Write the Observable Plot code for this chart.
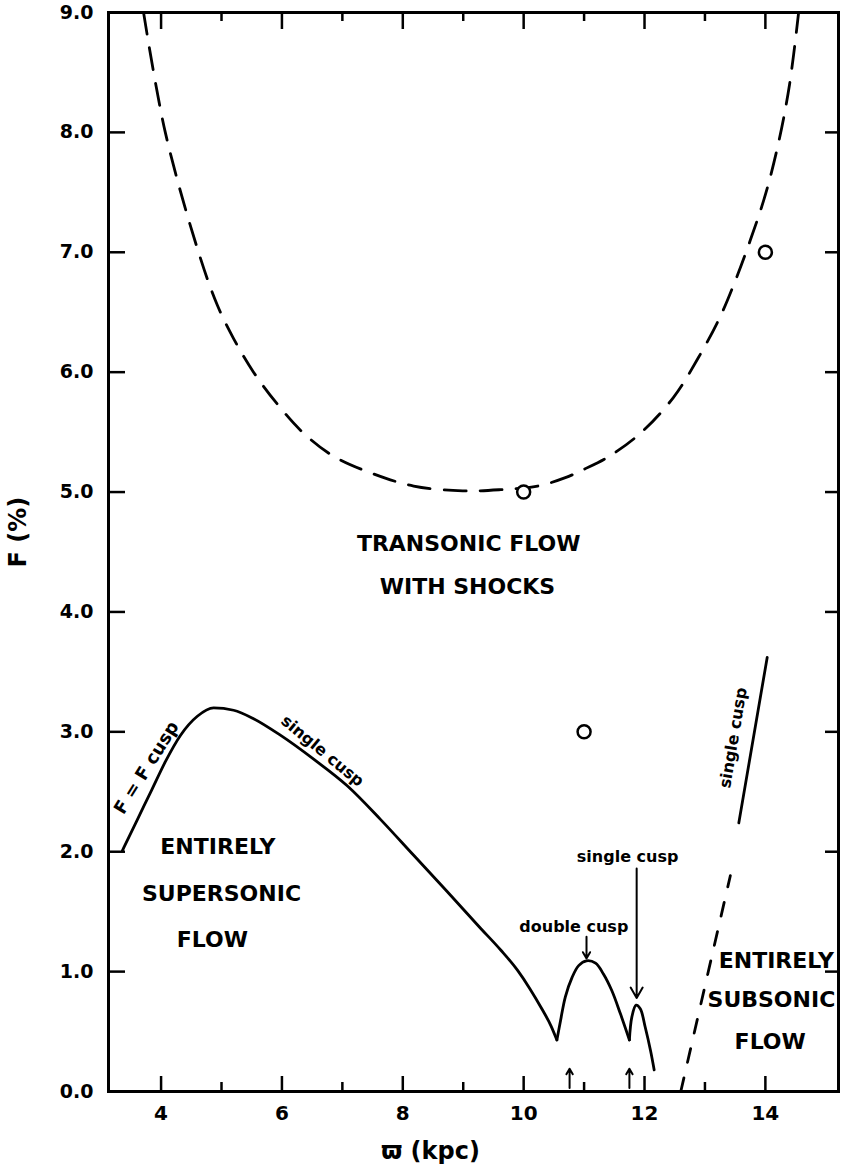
<!DOCTYPE html>
<html>
<head>
<meta charset="utf-8">
<script src="https://cdn.jsdelivr.net/npm/d3@7"></script>
<script src="https://cdn.jsdelivr.net/npm/@observablehq/plot@0.6"></script>
<style>
  html, body { margin: 0; padding: 0; background: #fff; }
  #chart svg { display: block; }
</style>
</head>
<body>
<div id="chart"></div>
<script>
// ---- data (ϖ in kpc, F in %) ----
// dashed boundary: transonic flow with shocks
const transonicBoundary = [
  [3.71, 9.0], [4.07, 8.0], [4.62, 7.0], [4.93, 6.56], [5.20, 6.28], [5.53, 6.0],
  [5.93, 5.73], [6.36, 5.49], [6.85, 5.30], [7.47, 5.16], [8.18, 5.05], [8.99, 5.01],
  [9.62, 5.02], [10.23, 5.05], [10.69, 5.12], [11.0, 5.19], [11.39, 5.29], [11.93, 5.49],
  [12.48, 5.79], [12.89, 6.12], [13.24, 6.45], [13.50, 6.76], [13.75, 7.10], [14.0, 7.48],
  [14.22, 7.92], [14.40, 8.40], [14.55, 9.0]
];
// solid boundary of entirely supersonic flow (three arcs separated by cusps)
const supersonicMain = [
  [3.36, 2.01], [3.60, 2.26], [3.85, 2.52], [4.08, 2.76], [4.32, 2.97], [4.60, 3.13],
  [4.87, 3.20], [5.20, 3.18], [5.53, 3.11], [5.98, 2.97], [6.53, 2.77], [7.08, 2.55],
  [7.63, 2.27], [8.18, 1.97], [8.73, 1.67], [9.29, 1.36], [9.62, 1.18], [9.90, 1.01],
  [10.10, 0.86], [10.30, 0.69], [10.45, 0.55], [10.55, 0.43]
];
const supersonicArch = [
  [10.55, 0.43], [10.61, 0.59], [10.69, 0.79], [10.80, 0.95], [10.91, 1.05], [11.04, 1.09],
  [11.19, 1.07], [11.32, 0.98], [11.46, 0.84], [11.60, 0.65], [11.75, 0.43]
];
const supersonicSmall = [
  [11.75, 0.43], [11.79, 0.62], [11.86, 0.72], [11.93, 0.69], [12.01, 0.54], [12.10, 0.34], [12.16, 0.18]
];
// subsonic boundary: dashed part and solid "single cusp" part
const subsonicDashed = [[12.60, 0.0], [13.42, 1.80]];
const subsonicSolid = [[13.56, 2.24], [14.03, 3.62]];
// open circles
const circlePoints = [[10, 5.0], [11, 3.0], [14, 7.0]];
// small arrows on the axis, and annotation arrows [x, yFrom, yTo]
const axisArrows = [[10.76, 0.03, 0.19], [11.75, 0.03, 0.19]];
const labelArrows = [[11.04, 1.29, 1.11], [11.87, 1.86, 0.78]];

// ticks
const xMajorTicks = [4, 6, 8, 10, 12, 14];
const xMinorTicks = [5, 7, 9, 11, 13];
const yTicks = [0, 1, 2, 3, 4, 5, 6, 7, 8, 9];
const yInnerTicks = [1, 2, 3, 4, 5, 6, 7, 8];

// region labels [x, F, text]
const regionLabels = [
  [9.09, 4.57, "TRANSONIC FLOW"], [9.07, 4.21, "WITH SHOCKS"],
  [4.94, 2.04, "ENTIRELY"], [5.00, 1.65, "SUPERSONIC"], [4.85, 1.26, "FLOW"],
  [14.18, 1.09, "ENTIRELY"], [14.10, 0.76, "SUBSONIC"], [14.08, 0.41, "FLOW"]
];
const cuspLabels = [[10.83, 1.37, "double cusp"], [11.72, 1.96, "single cusp"]];
// rotated labels [x, F, text, angle]
const curveLabels = [
  [3.76, 2.70, "F = F cusp", -58],
  [6.67, 2.84, "single cusp", 39.6],
  [13.47, 2.95, "single cusp", -80.5]
];

const xTitle = "ϖ (kpc)";
const yTitle = "F (%)";

// ---- chart ----
const W = 842, H = 1172;
const mT = 12, mB = 81, mL = 108, mR = 4;
const innerH = H - mT - mB, innerW = W - mL - mR;
const FONT = "DejaVu Sans";

const chart = Plot.plot({
  width: W,
  height: H,
  marginTop: mT,
  marginBottom: mB,
  marginLeft: mL,
  marginRight: mR,
  x: {domain: [3.13, 15.21]},
  y: {domain: [0, 9]},
  style: {fontFamily: FONT, fontWeight: "bold", background: "#fff", color: "#000"},
  marks: [
    Plot.frame({stroke: "#000", strokeWidth: 3}),
    // inward ticks
    Plot.ruleX(xMajorTicks, {x: d => d, insetTop: innerH - 15, strokeWidth: 2.5}),
    Plot.ruleX(xMinorTicks, {x: d => d, insetTop: innerH - 9, strokeWidth: 2.5}),
    Plot.ruleX(xMajorTicks, {x: d => d, insetBottom: innerH - 17, strokeWidth: 2.5}),
    Plot.ruleX(xMinorTicks, {x: d => d, insetBottom: innerH - 9, strokeWidth: 2.5}),
    Plot.ruleY(yInnerTicks, {y: d => d, insetRight: innerW - 17, strokeWidth: 2.5}),
    Plot.ruleY(yInnerTicks, {y: d => d, insetLeft: innerW - 13, strokeWidth: 2.5}),
    Plot.axisX({ticks: xMajorTicks, tickSize: 0, tickPadding: 14, fontSize: 20, label: null, anchor: "bottom"}),
    Plot.axisY({ticks: yTicks, tickFormat: d => d.toFixed(1), tickSize: 0, tickPadding: 15, fontSize: 19, label: null, anchor: "left"}),
    // curves
    Plot.line(transonicBoundary, {x: d => d[0], y: d => d[1], curve: "catmull-rom", stroke: "#000", strokeWidth: 2.8, strokeDasharray: "22,14"}),
    Plot.line(supersonicMain, {x: d => d[0], y: d => d[1], curve: "monotone-x", stroke: "#000", strokeWidth: 2.8}),
    Plot.line(supersonicArch, {x: d => d[0], y: d => d[1], curve: "catmull-rom", stroke: "#000", strokeWidth: 2.8}),
    Plot.line(supersonicSmall, {x: d => d[0], y: d => d[1], curve: "catmull-rom", stroke: "#000", strokeWidth: 2.8}),
    Plot.line(subsonicDashed, {x: d => d[0], y: d => d[1], stroke: "#000", strokeWidth: 2.8, strokeDasharray: "14,16"}),
    Plot.line(subsonicSolid, {x: d => d[0], y: d => d[1], stroke: "#000", strokeWidth: 2.8}),
    Plot.dot(circlePoints, {x: d => d[0], y: d => d[1], r: 6.5, stroke: "#000", strokeWidth: 2.5, fill: "#fff"}),
    // arrows
    Plot.arrow(axisArrows, {x1: d => d[0], x2: d => d[0], y1: d => d[1], y2: d => d[2], stroke: "#000", strokeWidth: 2, headLength: 8}),
    Plot.arrow(labelArrows, {x1: d => d[0], x2: d => d[0], y1: d => d[1], y2: d => d[2], stroke: "#000", strokeWidth: 2, headLength: 9}),
    // labels
    Plot.text(regionLabels, {x: d => d[0], y: d => d[1], text: d => d[2], fontSize: 22, fill: "#000"}),
    Plot.text(cuspLabels, {x: d => d[0], y: d => d[1], text: d => d[2], fontSize: 16, fill: "#000"}),
    Plot.text(curveLabels.slice(0, 1), {x: d => d[0], y: d => d[1], text: d => d[2], rotate: curveLabels[0][3], fontSize: 18, fill: "#000"}),
    Plot.text(curveLabels.slice(1, 2), {x: d => d[0], y: d => d[1], text: d => d[2], rotate: curveLabels[1][3], fontSize: 16, fill: "#000"}),
    Plot.text(curveLabels.slice(2, 3), {x: d => d[0], y: d => d[1], text: d => d[2], rotate: curveLabels[2][3], fontSize: 16, fill: "#000"}),
    // axis titles
    Plot.text([xTitle], {x: 8.46, frameAnchor: "bottom", dy: 67, text: d => d, fontSize: 24, fill: "#000"}),
    Plot.text([yTitle], {y: 4.37, frameAnchor: "left", dx: -90, rotate: -90, text: d => d, fontSize: 24, fill: "#000"})
  ]
});
document.getElementById("chart").appendChild(chart);
</script>
</body>
</html>
